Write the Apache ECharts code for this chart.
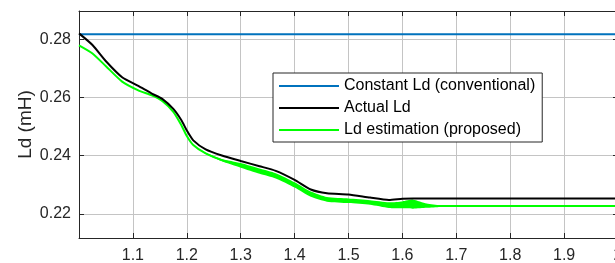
<!DOCTYPE html>
<html>
<head>
<meta charset="utf-8">
<script src="https://cdn.jsdelivr.net/npm/echarts@6/dist/echarts.min.js"></script>
<style>
  html, body { margin: 0; padding: 0; background: #fff; }
  #main { width: 615px; height: 263px; }
</style>
</head>
<body>
<div id="main"></div>
<script>
// time axis (s) shared by all curves
var xs = [1.000, 1.025, 1.050, 1.080, 1.110, 1.135, 1.155, 1.175, 1.190, 1.200,
          1.212, 1.235, 1.265, 1.300, 1.335, 1.365, 1.400, 1.430, 1.460, 1.500,
          1.540, 1.575, 1.600, 1.620, 1.645, 1.670, 1.700, 1.800, 1.900, 2.000];

var constLd = 0.2818;

var actualLd = [0.2821, 0.2781, 0.2725, 0.2670, 0.2640, 0.2614, 0.2595, 0.2561, 0.2522, 0.2487,
                0.2453, 0.2422, 0.2401, 0.2382, 0.2364, 0.2348, 0.2317, 0.2284, 0.2271, 0.2267,
                0.2256, 0.2248, 0.2252, 0.2253, 0.2253, 0.2253, 0.2253, 0.2253, 0.2253, 0.2253];

var estLd = [0.2780, 0.2752, 0.2708, 0.2655, 0.2625, 0.2608, 0.2588, 0.2551, 0.2505, 0.2468,
             0.2437, 0.2408, 0.2385, 0.2367, 0.2347, 0.2331, 0.2300, 0.2268, 0.2250, 0.2245,
             0.2239, 0.2230, 0.2231, 0.2233, 0.2228, 0.2227, 0.2227, 0.2227, 0.2227, 0.2227];

// ripple envelope of the estimate
var estLow = [0.2780, 0.2752, 0.2708, 0.2655, 0.2625, 0.2608, 0.2588, 0.2551, 0.2505, 0.2468,
              0.2437, 0.2406, 0.2381, 0.2359, 0.2338, 0.2322, 0.2291, 0.2259, 0.2242, 0.2237,
              0.2231, 0.2220, 0.2219, 0.2218, 0.2221, 0.2224, 0.2227, 0.2227, 0.2227, 0.2227];
var estHigh = [0.2780, 0.2752, 0.2708, 0.2655, 0.2625, 0.2608, 0.2588, 0.2551, 0.2505, 0.2468,
               0.2437, 0.2410, 0.2389, 0.2375, 0.2356, 0.2340, 0.2309, 0.2277, 0.2258, 0.2253,
               0.2247, 0.2240, 0.2243, 0.2249, 0.2236, 0.2230, 0.2227, 0.2227, 0.2227, 0.2227];

var yTicks = [0.22, 0.24, 0.26, 0.28];

var axisColor = '#262626';
var font = "'Liberation Sans', Arial, sans-serif";

function pairs(ys) {
  return xs.map(function (x, i) { return [x, ys[i]]; });
}

var chart = echarts.init(document.getElementById('main'));

var option = {
  animation: false,
  backgroundColor: '#fff',
  textStyle: { fontFamily: font },
  grid: { left: 79, top: 11, width: 539, height: 227, outerBoundsMode: 'none' },
  legend: {
    orient: 'vertical',
    left: 273, top: 73,
    data: ['Constant Ld (conventional)', 'Actual Ld', 'Ld estimation (proposed)'],
    icon: 'rect',
    backgroundColor: '#fff',
    borderColor: axisColor, borderWidth: 1,
    padding: [3, 7, 2, 6],
    itemWidth: 60, itemHeight: 2, itemGap: 2,
    selectedMode: false,
    textStyle: { fontSize: 16, lineHeight: 20, color: '#000', fontFamily: font }
  },
  xAxis: [{
    type: 'value', position: 'bottom', min: 1, max: 2, interval: 0.1,
    axisLine: { show: true, lineStyle: { color: axisColor, width: 1 } },
    axisTick: { show: true, inside: true, length: 5, lineStyle: { color: axisColor } },
    axisLabel: {
      margin: 10, fontSize: 16, color: axisColor, fontFamily: font,
      showMaxLabel: true, hideOverlap: false,
      formatter: function (v) { return v === 1 ? '' : String(+v.toFixed(1)); }
    },
    splitLine: { show: true, lineStyle: { color: '#c4c4c4', width: 1 } }
  }, {
    type: 'value', position: 'top', min: 1, max: 2, interval: 0.1,
    axisLine: { show: true, onZero: false, lineStyle: { color: axisColor, width: 1 } },
    axisTick: { show: true, inside: true, length: 5, lineStyle: { color: axisColor } },
    axisLabel: { show: false },
    splitLine: { show: false }
  }],
  yAxis: [{
    type: 'value', position: 'left', min: 0.2117, max: 0.2898,
    name: 'Ld (mH)', nameLocation: 'middle', nameGap: 44, nameMoveOverlap: false,
    nameTextStyle: { fontSize: 19, color: axisColor, fontFamily: font },
    axisLine: { show: true, onZero: false, lineStyle: { color: axisColor, width: 1 } },
    axisTick: { show: true, inside: true, length: 5, customValues: yTicks, lineStyle: { color: axisColor } },
    axisLabel: {
      margin: 8, fontSize: 16, color: axisColor, fontFamily: font, customValues: yTicks,
      formatter: function (v) { return v.toFixed(2); }
    },
    splitLine: { show: true, lineStyle: { color: '#c4c4c4', width: 1 } }
  }, {
    type: 'value', position: 'right', min: 0.2117, max: 0.2898,
    axisLine: { show: true, onZero: false, lineStyle: { color: axisColor, width: 1 } },
    axisTick: { show: true, inside: true, length: 5, customValues: yTicks, lineStyle: { color: axisColor } },
    axisLabel: { show: false },
    splitLine: { show: false }
  }],
  series: [
    {
      // ripple band of the estimate, drawn between estLow and estHigh
      name: 'band', type: 'custom', silent: true,
      data: [[xs[0], estLd[0]]],
      renderItem: function (params, api) {
        var pts = [];
        for (var i = 0; i < xs.length; i++) pts.push(api.coord([xs[i], estHigh[i]]));
        for (var j = xs.length - 1; j >= 0; j--) pts.push(api.coord([xs[j], estLow[j]]));
        return {
          type: 'polygon',
          shape: { points: pts, smooth: 0.2 },
          style: { fill: '#00ff00' }
        };
      }
    },
    {
      name: 'Constant Ld (conventional)', type: 'line', symbol: 'none',
      data: [[xs[0], constLd], [xs[xs.length - 1], constLd]],
      lineStyle: { color: '#0072BD', width: 2 }, itemStyle: { color: '#0072BD' }
    },
    {
      name: 'Ld estimation (proposed)', type: 'line', symbol: 'none', smooth: 0.2,
      data: pairs(estLd),
      lineStyle: { color: '#00ff00', width: 2 }, itemStyle: { color: '#00ff00' }
    },
    {
      name: 'Actual Ld', type: 'line', symbol: 'none', smooth: 0.2,
      data: pairs(actualLd),
      lineStyle: { color: '#000000', width: 2 }, itemStyle: { color: '#000000' }
    }
  ]
};

chart.setOption(option);
</script>
</body>
</html>
